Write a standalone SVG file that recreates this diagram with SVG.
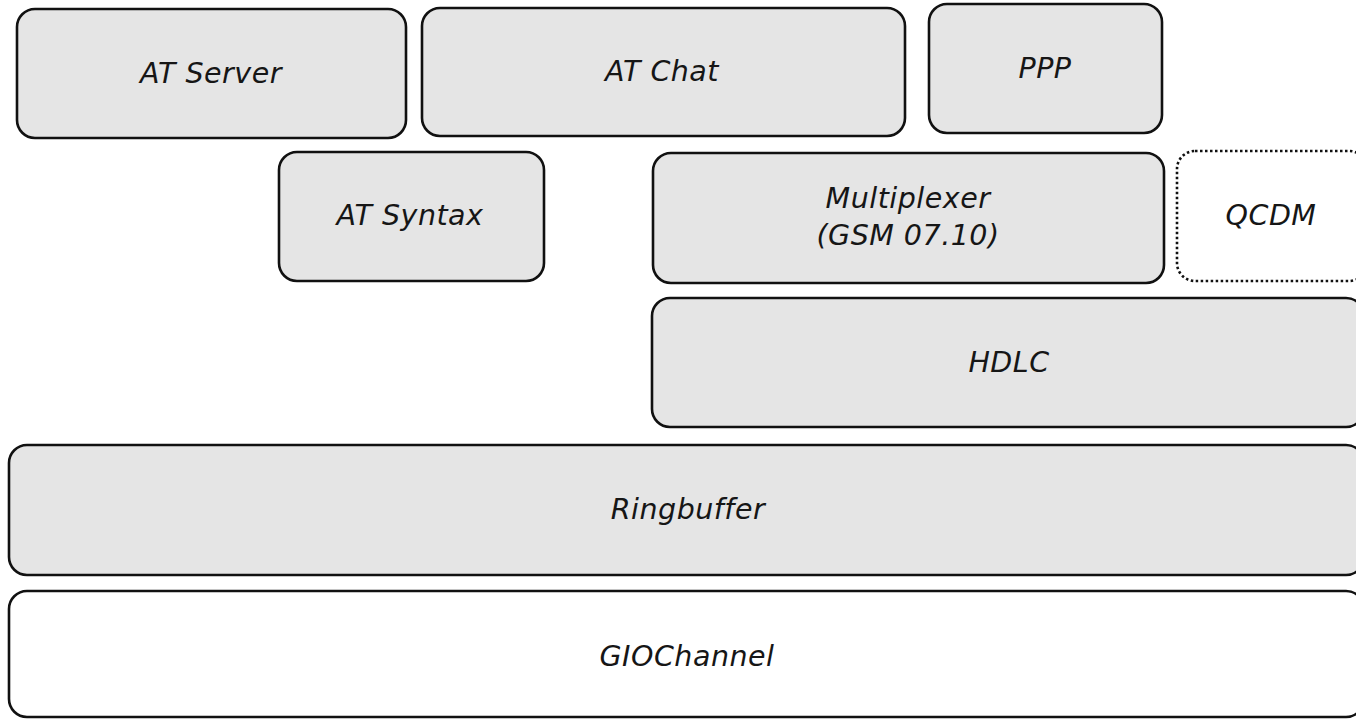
<svg xmlns="http://www.w3.org/2000/svg" width="1356" height="719" viewBox="0 0 1356 719">
<style>
.box{fill:#e5e5e5;stroke:#111;stroke-width:2.6}
.white{fill:#fff;stroke:#111;stroke-width:2.6}
.dotted{fill:#fff;stroke:#111;stroke-width:2.6;stroke-dasharray:2.5 2.5}
text{font-family:"DejaVu Sans",sans-serif;font-style:italic;font-size:28.5px;letter-spacing:0.5px;fill:#161616;text-anchor:middle}
</style>
<rect width="1356" height="719" fill="#fff"/>
<g id="at-server"><rect class="box" x="17" y="9" width="389" height="129" rx="18"/><text x="211" y="83">AT Server</text></g>
<g id="at-chat"><rect class="box" x="422" y="8" width="483" height="128" rx="18"/><text x="662" y="81">AT Chat</text></g>
<g id="ppp"><rect class="box" x="929" y="4" width="233" height="129" rx="18"/><text x="1045" y="78">PPP</text></g>
<g id="at-syntax"><rect class="box" x="279" y="152" width="265" height="129" rx="18"/><text x="410" y="225">AT Syntax</text></g>
<g id="multiplexer"><rect class="box" x="653" y="153" width="511" height="130" rx="18"/><text x="908" y="208">Multiplexer</text><text x="908" y="245">(GSM 07.10)</text></g>
<g id="qcdm"><rect class="dotted" x="1177" y="151" width="190" height="130" rx="18"/><text x="1271" y="225">QCDM</text></g>
<g id="hdlc"><rect class="box" x="652" y="298" width="712" height="129" rx="18"/><text x="1009" y="372">HDLC</text></g>
<g id="ringbuffer"><rect class="box" x="9" y="445" width="1355" height="130" rx="18"/><text x="688" y="519">Ringbuffer</text></g>
<g id="giochannel"><rect class="white" x="9" y="591" width="1355" height="126" rx="18"/><text x="687" y="666">GIOChannel</text></g>
<g id="connectors"></g>
</svg>
